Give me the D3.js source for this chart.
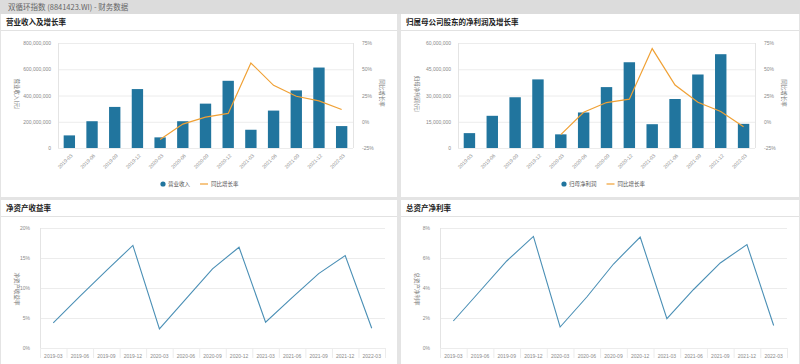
<!DOCTYPE html>
<html>
<head>
<meta charset="utf-8">
<script src="https://cdn.jsdelivr.net/npm/d3@7"></script>
<style>
  body { margin: 0; background: #e4e4e4; font-family: "Noto Sans CJK SC", "Noto Sans", sans-serif; }
  svg { display: block; }
</style>
</head>
<body>
<svg width="800" height="364"></svg>
<script>
// Quarter labels shared by all four charts
var quarters = ["2019-03", "2019-06", "2019-09", "2019-12", "2020-03", "2020-06", "2020-09",
                "2020-12", "2021-03", "2021-06", "2021-09", "2021-12", "2022-03"];

// 营业收入 (元) and its YoY growth (%)
var revenue = [96e6, 204e6, 313e6, 449e6, 81e6, 204e6, 338e6, 512e6, 139e6, 285e6, 439e6, 613e6, 167e6];
var revenueGrowth = [null, null, null, null, -17, -2.2, 4.4, 7.9, 56, 34.7, 24.3, 19.9, 11.7];

// 归母净利润 (元) and its YoY growth (%)
var netProfit = [8.5e6, 18.4e6, 29e6, 39.2e6, 7.8e6, 20.3e6, 34.8e6, 49e6, 13.6e6, 28e6, 42e6, 53.6e6, 13.8e6];
var profitGrowth = [null, null, null, null, -12.3, 9, 18.3, 21.5, 69.7, 35, 18.6, 9.8, -4.7];

// 净资产收益率 / 总资产净利率 (%)
var roe = [4.2, 8.6, 12.9, 17.1, 3.2, 8.2, 13.2, 16.8, 4.3, 8.4, 12.4, 15.4, 3.3];
var roa = [1.8, 3.8, 5.8, 7.44, 1.4, 3.4, 5.6, 7.4, 1.96, 3.9, 5.67, 6.9, 1.5];

var barColor = "#21759e",
    lineColor = "#f0a135",
    rateColor = "#4a8fb5",
    gridColor = "#ececec",
    tickColor = "#8a8a8a";

var svg = d3.select("svg");

// Page header
svg.append("rect").attr("width", 800).attr("height", 14).attr("fill", "#dcdcdc");
svg.append("text").attr("x", 8).attr("y", 10)
    .attr("font-size", 7.5).attr("fill", "#666")
    .text("双循环指数 (8841423.WI) - 财务数据");

// White cards with a title bar
function panel(x, y, w, h, title) {
  var g = svg.append("g").attr("transform", "translate(" + x + "," + y + ")");
  g.append("rect").attr("width", w).attr("height", h).attr("fill", "#fff");
  g.append("line").attr("x1", 0).attr("x2", w).attr("y1", 16.5).attr("y2", 16.5)
      .attr("stroke", "#e2e2e2");
  g.append("text").attr("x", 5).attr("y", 11).attr("font-size", 7.5)
      .attr("font-weight", "bold").attr("fill", "#222").text(title);
  return g;
}

function styleAxis(g) {
  g.selectAll("text").attr("fill", tickColor).attr("font-size", 5);
  g.select(".domain").remove();
  g.selectAll(".tick line").remove();
}

function axisTitle(g, x, y, text) {
  g.append("text")
      .attr("transform", "translate(" + x + "," + y + ") rotate(90)")
      .attr("text-anchor", "middle").attr("font-size", 5.5).attr("fill", "#777")
      .text(text);
}

// Bar + growth line chart
function drawCombo(x0, y0, w, h, title, values, growth, yMax, yTitle, legendName) {
  var g = panel(x0, y0, w, h, title);
  var left = 57, right = w - 44, top = 29, bottom = 134;

  var x = d3.scaleBand().domain(quarters).range([left, right]).paddingInner(0.5).paddingOuter(0.25);
  var y = d3.scaleLinear().domain([0, yMax]).range([bottom, top]);
  var y2 = d3.scaleLinear().domain([-25, 75]).range([bottom, top]);
  var yTicks = d3.range(0, 5).map(function(i) { return yMax / 4 * i; });

  // gridlines
  g.append("g").selectAll("line").data(yTicks).enter().append("line")
      .attr("x1", left).attr("x2", right)
      .attr("y1", function(d) { return y(d) + 0.5; })
      .attr("y2", function(d) { return y(d) + 0.5; })
      .attr("stroke", gridColor);
  g.append("line").attr("x1", left + 0.5).attr("x2", left + 0.5).attr("y1", top).attr("y2", bottom)
      .attr("stroke", "#e4e4e4");
  g.append("line").attr("x1", right + 0.5).attr("x2", right + 0.5).attr("y1", top).attr("y2", bottom)
      .attr("stroke", "#e4e4e4");

  var yl = g.append("g").attr("transform", "translate(" + (left - 4) + ",0)")
      .call(d3.axisLeft(y).tickValues(yTicks).tickSize(0).tickFormat(d3.format(",")));
  styleAxis(yl);
  var yr = g.append("g").attr("transform", "translate(" + (right + 6) + ",0)")
      .call(d3.axisRight(y2).tickValues([-25, 0, 25, 50, 75]).tickSize(0)
        .tickFormat(function(d) { return d + "%"; }));
  styleAxis(yr);

  var xa = g.append("g").attr("transform", "translate(0," + (bottom + 3) + ")")
      .call(d3.axisBottom(x).tickSize(0));
  styleAxis(xa);
  xa.selectAll("text").attr("text-anchor", "end")
      .attr("transform", "rotate(-45)").attr("dx", "-0.2em").attr("dy", "0.6em");

  axisTitle(g, 14, 80, yTitle);
  axisTitle(g, w - 17, 79, "同比增长率");

  g.append("g").selectAll("rect").data(values).enter().append("rect")
      .attr("x", function(d, i) { return x(quarters[i]); })
      .attr("y", function(d) { return y(d); })
      .attr("width", x.bandwidth())
      .attr("height", function(d) { return bottom - y(d); })
      .attr("fill", barColor);

  var line = d3.line()
      .defined(function(d) { return d != null; })
      .x(function(d, i) { return x(quarters[i]) + x.bandwidth() / 2; })
      .y(function(d) { return y2(d); });
  g.append("path").datum(growth).attr("d", line)
      .attr("fill", "none").attr("stroke", lineColor).attr("stroke-width", 1.2);

  // legend
  var lg = g.append("g").attr("transform", "translate(" + (w / 2 - 36) + ",170)");
  lg.append("circle").attr("cx", 0).attr("cy", 0).attr("r", 2.6).attr("fill", barColor);
  var t = lg.append("text").attr("x", 5).attr("y", 2).attr("font-size", 5.5).attr("fill", "#555").text(legendName);
  var lx = 5 + t.node().getComputedTextLength() + 10;
  lg.append("line").attr("x1", lx).attr("x2", lx + 8).attr("y1", 0).attr("y2", 0)
      .attr("stroke", lineColor).attr("stroke-width", 1.2);
  lg.append("text").attr("x", lx + 11).attr("y", 2).attr("font-size", 5.5).attr("fill", "#555").text("同比增长率");
}

// Simple ratio line chart
function drawRate(x0, y0, w, h, title, values, yMax, step, yTitle) {
  var g = panel(x0, y0, w, h, title);
  var left = 39, right = w - 12, top = 28, bottom = 148;

  var x = d3.scaleBand().domain(quarters).range([left, right]).padding(0);
  var y = d3.scaleLinear().domain([0, yMax]).range([bottom, top]);
  var ticks = d3.range(0, yMax + step / 2, step);

  g.append("g").selectAll("line").data(ticks).enter().append("line")
      .attr("x1", left).attr("x2", right)
      .attr("y1", function(d) { return y(d) + 0.5; })
      .attr("y2", function(d) { return y(d) + 0.5; })
      .attr("stroke", gridColor);
  g.append("line").attr("x1", left + 0.5).attr("x2", left + 0.5).attr("y1", top).attr("y2", bottom)
      .attr("stroke", "#e4e4e4");

  var yl = g.append("g").attr("transform", "translate(" + (left - 7) + ",0)")
      .call(d3.axisLeft(y).tickValues(ticks).tickSize(0).tickFormat(function(d) { return d + "%"; }));
  styleAxis(yl);

  // category separators under the axis
  g.append("g").selectAll("line").data(quarters.concat(["end"])).enter().append("line")
      .attr("x1", function(d, i) { return left + i * x.step() + 0.5; })
      .attr("x2", function(d, i) { return left + i * x.step() + 0.5; })
      .attr("y1", bottom).attr("y2", bottom + 10)
      .attr("stroke", "#ececec");
  var xa = g.append("g").attr("transform", "translate(0," + (bottom + 3) + ")")
      .call(d3.axisBottom(x).tickSize(0));
  styleAxis(xa);

  axisTitle(g, 14, 89, yTitle);

  var line = d3.line()
      .x(function(d, i) { return x(quarters[i]) + x.bandwidth() / 2; })
      .y(function(d) { return y(d); });
  g.append("path").datum(values).attr("d", line)
      .attr("fill", "none").attr("stroke", rateColor).attr("stroke-width", 1.1);
}

drawCombo(1, 14, 396, 183, "营业收入及增长率", revenue, revenueGrowth, 800e6, "营业收入(元)", "营业收入");
drawCombo(401, 14, 398, 183, "归属母公司股东的净利润及增长率", netProfit, profitGrowth, 60e6, "归母净利润(元)", "归母净利润");
drawRate(1, 200, 396, 164, "净资产收益率", roe, 20, 5, "净资产收益率");
drawRate(401, 200, 398, 164, "总资产净利率", roa, 8, 2, "总资产净利率");
</script>
</body>
</html>
